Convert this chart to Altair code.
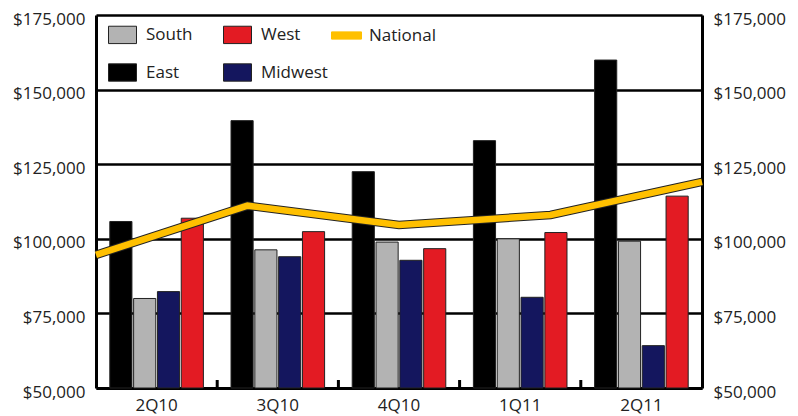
import altair as alt
import pandas as pd

quarters = ["2Q10", "3Q10", "4Q10", "1Q11", "2Q11"]
regions = ["East", "South", "Midwest", "West"]
east = [105800, 139600, 122500, 132900, 159900]
south = [80000, 96300, 98900, 100000, 99200]
midwest = [82300, 94000, 92800, 80400, 64200]
west = [106900, 102400, 96700, 102100, 114300]
national = [94600, 111100, 104600, 108000, 119100]

# legend fills column by column: South/East in column 1, West/Midwest in column 2
legend_order = ["South", "East", "West", "Midwest"]
legend_colors = ["#b3b3b3", "#000000", "#e31b23", "#14165e"]
national_color = "#ffc000"

series = {"East": east, "South": south, "Midwest": midwest, "West": west}
bars_df = pd.DataFrame(
    [{"quarter": q, "region": r, "value": series[r][i]}
     for r in regions for i, q in enumerate(quarters)]
)
nat_df = pd.DataFrame({"quarter": quarters, "value": national, "series": "National"})
tick_df = pd.DataFrame({"quarter": quarters[1:]})

FONT = "Open Sans"
FS = 17
W, H = 606, 373
YMIN = 50000
YVALS = [50000, 75000, 100000, 125000, 150000, 175000]
RECT = "M-1,-0.62L1,-0.62L1,0.62L-1,0.62Z"
THIN = "M-1,-0.24L1,-0.24L1,0.24L-1,0.24Z"

yscale = alt.Scale(domain=[YMIN, 175000], nice=False)
xband = alt.Scale(paddingInner=0.216, paddingOuter=0.108)

bars = alt.Chart(bars_df).mark_bar(stroke="#222222", strokeWidth=1).encode(
    x=alt.X("quarter:N", sort=quarters, title=None, scale=xband,
            axis=alt.Axis(orient="bottom", labelAngle=0, ticks=False, labelPadding=9,
                          labelFontSize=FS, labelFont=FONT, labelColor="#222",
                          domainColor="black", domainWidth=3)),
    xOffset=alt.XOffset("region:N", sort=regions,
                        scale=alt.Scale(paddingInner=0.07, paddingOuter=0.03)),
    y=alt.Y("value:Q", scale=yscale, title=None,
            axis=alt.Axis(orient="left", values=YVALS,
                          format="$,.0f", ticks=False, labelPadding=11, labelOffset=4,
                          labelFontSize=FS, labelFont=FONT, labelColor="#222",
                          grid=True, gridColor="black", gridWidth=2.5,
                          domainColor="black", domainWidth=3)),
    y2=alt.datum(YMIN),
    color=alt.Color("region:N",
                    scale=alt.Scale(domain=legend_order, range=legend_colors),
                    legend=alt.Legend(
                        title=None, orient="none", legendX=12, legendY=5,
                        columns=2, columnPadding=8, rowPadding=12, gridAlign="all",
                        padding=0, symbolSize=784, symbolOpacity=1,
                        symbolStrokeColor="#222222", symbolStrokeWidth=1,
                        labelFontSize=FS, labelFont=FONT, labelColor="#222",
                        labelOffset=9, values=legend_order, symbolType=RECT)),
)

# small inward ticks at the boundaries between quarter groups
ticks = alt.Chart(tick_df).mark_rule(color="black", strokeWidth=3).encode(
    x=alt.X("quarter:N", sort=quarters, bandPosition=0, axis=None,
            scale=alt.Scale(domain=quarters, paddingInner=0, paddingOuter=0)),
    y=alt.value(H),
    y2=alt.value(H - 8),
)

base_line = alt.Chart(nat_df).encode(
    x=alt.X("quarter:N", sort=quarters, scale=alt.Scale(type="point", padding=0), axis=None),
    y=alt.Y("value:Q", scale=yscale,
            axis=alt.Axis(orient="right", values=YVALS,
                          format="$,.0f", ticks=False, labelPadding=11, labelOffset=4,
                          labelFontSize=FS, labelFont=FONT, labelColor="#222",
                          grid=False, domainColor="black", domainWidth=3, title=None)),
)
line_outline = base_line.mark_line(color="#222222", strokeWidth=8.5, strokeJoin="miter")
line_fill = base_line.mark_line(strokeWidth=6.5, strokeJoin="miter").encode(
    color=alt.Color("series:N", scale=alt.Scale(domain=["National"], range=[national_color]),
                    legend=alt.Legend(
                        title=None, orient="none", legendX=235, legendY=5, padding=0,
                        symbolSize=900, symbolType=THIN, symbolOpacity=1,
                        symbolFillColor=national_color, symbolStrokeColor="#222222",
                        symbolStrokeWidth=1,
                        labelFontSize=FS, labelFont=FONT, labelColor="#222", labelOffset=7)),
)

line_layer = alt.layer(line_outline, line_fill)

chart = alt.layer(bars, ticks, line_layer).resolve_scale(
    x="independent", y="shared", color="independent"
).resolve_axis(y="independent").properties(
    width=W, height=H,
    autosize=alt.AutoSizeParams(type="none"),
    padding={"left": 96, "top": 15, "right": 96, "bottom": 28},
).configure_view(stroke="black", strokeWidth=3).configure(background="white")

chart.save("out.html", embed_options={"renderer": "svg", "actions": False})
